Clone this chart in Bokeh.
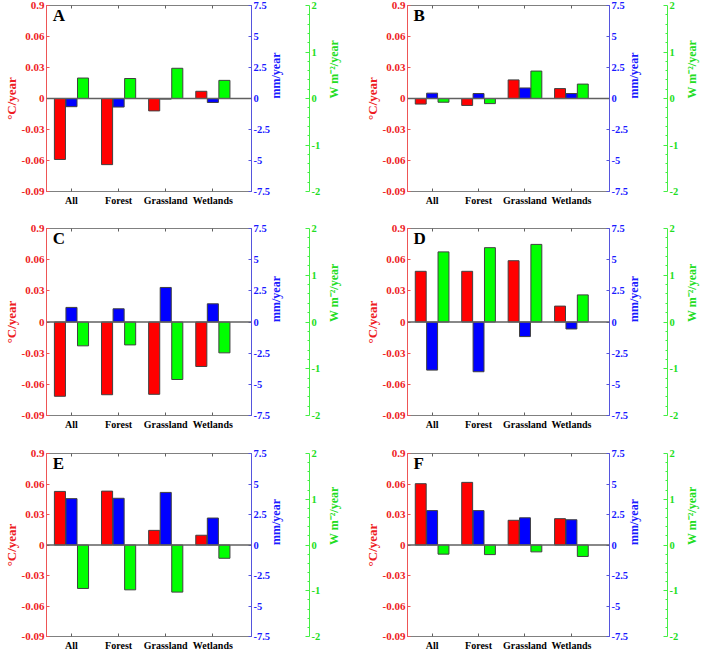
import math
import numpy as np
from bokeh.plotting import figure
from bokeh.models import Range1d, LinearAxis, FixedTicker, Span, Label
from bokeh.layouts import column, row
from bokeh.embed import file_html
from bokeh.resources import INLINE

# ---------------- data ----------------
categories = ["All", "Forest", "Grassland", "Wetlands"]
panel_letters = ["A", "B", "C", "D", "E", "F"]

temp_A = [-0.059, -0.064, -0.012, 0.007]
precip_A = [-0.66, -0.69, -0.05, -0.32]
rad_A = [0.44, 0.43, 0.65, 0.39]

temp_B = [-0.0054, -0.0067, 0.018, 0.0096]
precip_B = [0.43, 0.40, 0.85, 0.40]
rad_B = [-0.08, -0.11, 0.59, 0.31]

temp_C = [-0.0715, -0.070, -0.0696, -0.0428]
precip_C = [1.17, 1.06, 2.77, 1.46]
rad_C = [-0.51, -0.49, -1.23, -0.66]

temp_D = [0.0488, 0.0488, 0.059, 0.0153]
precip_D = [-3.86, -3.99, -1.17, -0.56]
rad_D = [1.50, 1.59, 1.66, 0.58]

temp_E = [0.0527, 0.053, 0.0144, 0.0096]
precip_E = [3.80, 3.83, 4.31, 2.21]
rad_E = [-0.95, -0.98, -1.03, -0.29]

temp_F = [0.0603, 0.0616, 0.0243, 0.0259]
precip_F = [2.82, 2.82, 2.23, 2.07]
rad_F = [-0.20, -0.21, -0.15, -0.25]

red_ticks = [-0.09, -0.06, -0.03, 0, 0.03, 0.06, 0.09]
red_tick_labels = ["-0.09", "-0.06", "-0.03", "0", "0.03", "0.06", "0.9"]
blue_ticks = [-7.5, -5, -2.5, 0, 2.5, 5, 7.5]
blue_tick_labels = ["-7.5", "-5", "-2.5", "0", "2.5", "5", "7.5"]
green_ticks = [-2, -1, 0, 1, 2]
green_tick_labels = ["-2", "-1", "0", "1", "2"]
green_minor = [-1.8, -1.6, -1.4, -1.2, -0.8, -0.6, -0.4, -0.2,
               0.2, 0.4, 0.6, 0.8, 1.2, 1.4, 1.6, 1.8]

red_label = "°C/year"
blue_label = "mm/year"
green_label = "W m⁻²/year"

FONT = "'Liberation Serif', 'Times New Roman', serif"
RED, BLUE, GREEN = "#ff0000", "#0000ff", "#00ff00"
RED_TXT, BLUE_TXT, GREEN_TXT = "#ee1c24", "#1a1aff", "#22dd22"


def orient_right(ax):
    if hasattr(ax, "axis_label_orientation"):
        try:
            ax.axis_label_orientation = math.pi / 2
        except Exception:
            pass


def style_text(ax, color, tick_size, label_size):
    ax.major_label_text_color = color
    ax.major_label_text_font = FONT
    ax.major_label_text_font_style = "bold"
    ax.major_label_text_font_size = tick_size
    ax.axis_label_text_color = color
    ax.axis_label_text_font = FONT
    ax.axis_label_text_font_style = "bold"
    ax.axis_label_text_font_size = label_size


def make_panel(letter, temp, precip, rad, width, height, left, top, bottom, frame_w):
    x = np.arange(1, len(categories) + 1)
    p = figure(width=width, height=height,
               x_range=Range1d(0.47, 4.82), y_range=Range1d(-0.09, 0.09),
               output_backend="svg", toolbar_location=None,
               min_border_left=left, min_border_top=top,
               min_border_bottom=bottom, min_border_right=width - left - frame_w)
    p.extra_y_ranges = {"blue": Range1d(-7.5, 7.5), "green": Range1d(-2, 2)}
    p.xgrid.visible = False
    p.ygrid.visible = False
    p.outline_line_color = "#808080"
    p.background_fill_color = "white"
    p.border_fill_color = "white"

    p.add_layout(Span(location=0, dimension="width", line_color="#606060", line_width=1.5))

    bw = 0.235
    p.vbar(x=x - 0.245, top=temp, width=bw, fill_color=RED, line_color="#404040", line_width=1)
    p.vbar(x=x, top=precip, width=bw, fill_color=BLUE, line_color="#404040", line_width=1,
           y_range_name="blue")
    p.vbar(x=x + 0.245, top=rad, width=bw, fill_color=GREEN, line_color="#404040", line_width=1,
           y_range_name="green")

    # bottom axis
    xa = p.xaxis[0]
    xa.ticker = FixedTicker(ticks=list(x))
    xa.major_label_overrides = {int(i): c for i, c in zip(x, categories)}
    style_text(xa, "black", "10px", "10px")
    xa.axis_line_color = "#808080"
    xa.major_tick_line_color = "#606060"
    xa.major_tick_in = 3
    xa.major_tick_out = 0
    xa.minor_tick_line_color = None
    xa.major_label_standoff = 3

    # top axis (ticks only)
    ta = LinearAxis(ticker=FixedTicker(ticks=list(x)), axis_line_color="#808080",
                    major_tick_line_color="#606060", major_tick_in=3, major_tick_out=0,
                    minor_tick_line_color=None, major_label_text_font_size="1px",
                    major_label_text_alpha=0, major_label_standoff=0)
    p.add_layout(ta, "above")

    # left red axis
    ya = p.yaxis[0]
    ya.ticker = FixedTicker(ticks=red_ticks)
    ya.major_label_overrides = {t: l for t, l in zip(red_ticks, red_tick_labels)}
    ya.axis_line_color = "#ee5555"
    ya.major_tick_line_color = "#ee5555"
    ya.major_tick_in = 3
    ya.major_tick_out = 0
    ya.minor_tick_line_color = None
    style_text(ya, RED_TXT, "11px", "13px")
    ya.major_label_standoff = 2
    ya.axis_label = red_label
    ya.axis_label_standoff = 0

    # right blue axis
    ba = LinearAxis(y_range_name="blue", ticker=FixedTicker(ticks=blue_ticks))
    ba.major_label_overrides = {t: l for t, l in zip(blue_ticks, blue_tick_labels)}
    ba.axis_line_color = "#5555dd"
    ba.major_tick_line_color = "#5555dd"
    ba.major_tick_in = 3
    ba.major_tick_out = 0
    ba.minor_tick_line_color = None
    style_text(ba, BLUE_TXT, "10.5px", "12px")
    ba.major_label_standoff = 2
    ba.axis_label = blue_label
    ba.axis_label_standoff = 3
    orient_right(ba)
    p.add_layout(ba, "right")

    # spacer between blue and green axes
    sp = LinearAxis(y_range_name="green", ticker=FixedTicker(ticks=[]),
                    axis_line_color=None, major_tick_line_color=None,
                    minor_tick_line_color=None, major_label_standoff=0,
                    major_tick_in=0, major_tick_out=0,
                    axis_label=" ", axis_label_text_font_size="1px",
                    axis_label_standoff=12)
    p.add_layout(sp, "right")

    # right green axis
    ga = LinearAxis(y_range_name="green",
                    ticker=FixedTicker(ticks=green_ticks, minor_ticks=green_minor))
    ga.major_label_overrides = {t: l for t, l in zip(green_ticks, green_tick_labels)}
    ga.axis_line_color = "#44ee44"
    ga.major_tick_line_color = "#44ee44"
    ga.minor_tick_line_color = "#44ee44"
    ga.major_tick_in = 4
    ga.major_tick_out = 0
    ga.minor_tick_in = 2
    ga.minor_tick_out = 0
    style_text(ga, GREEN_TXT, "10.5px", "12px")
    ga.major_label_standoff = 2
    ga.axis_label = green_label
    ga.axis_label_standoff = 11
    orient_right(ga)
    p.add_layout(ga, "right")

    p.add_layout(Label(x=0.6, y=0.0805, text=letter, text_font=FONT,
                       text_font_style="bold", text_font_size="17px",
                       text_color="black", text_baseline="middle"))
    return p


data = [(temp_A, precip_A, rad_A), (temp_B, precip_B, rad_B),
        (temp_C, precip_C, rad_C), (temp_D, precip_D, rad_D),
        (temp_E, precip_E, rad_E), (temp_F, precip_F, rad_F)]

row_h = [(223, 5, 32), (225, 5, 33), (205, 5, 13)]
col_w = [(355, 38, 213), (354, 52, 214)]

rows = []
k = 0
for (h, t, b) in row_h:
    figs = []
    for (w, l, fw) in col_w:
        tp, pr, rd = data[k]
        figs.append(make_panel(panel_letters[k], tp, pr, rd, w, h, l, t, b, fw))
        k += 1
    rows.append(row(*figs))

layout = column(*rows)
open("out.html", "w").write(file_html(layout, INLINE))
